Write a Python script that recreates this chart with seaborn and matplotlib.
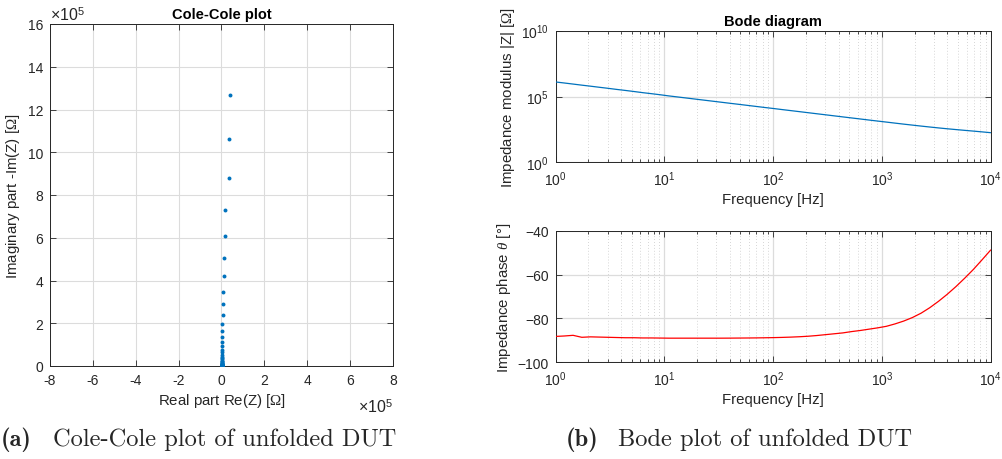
import numpy as np
import pandas as pd
import matplotlib
matplotlib.use("Agg")
import matplotlib.pyplot as plt
from matplotlib.ticker import LogLocator, NullLocator, FixedLocator, NullFormatter
import seaborn as sns

# Measurement frequencies [Hz]
freq_hz = [1.000, 1.202, 1.445, 1.738, 2.089, 2.512, 3.020, 3.631, 4.365, 5.248,
           6.310, 7.586, 9.120, 10.96, 13.18, 15.85, 19.05, 22.91, 27.54, 33.11,
           39.81, 47.86, 57.54, 69.18, 83.18, 100.0, 120.2, 144.5, 173.8, 208.9,
           251.2, 302.0, 363.1, 436.5, 524.8, 631.0, 758.6, 912.0, 1096, 1318,
           1585, 1905, 2291, 2754, 3311, 3981, 4786, 5754, 6918, 8318, 10000]

# Impedance modulus |Z| [Ohm]
modulus = [1.27e6, 1.06e6, 8.80e5, 7.28e5, 6.08e5, 5.04e5, 4.20e5, 3.46e5, 2.89e5, 2.39e5,
           1.96e5, 1.64e5, 1.36e5, 1.11e5, 9.25e4, 7.70e4, 6.40e4, 5.33e4, 4.44e4, 3.69e4,
           3.07e4, 2.56e4, 2.13e4, 1.77e4, 1.47e4, 1.23e4, 1.02e4, 8500, 7080, 5890,
           4900, 4080, 3390, 2820, 2350, 1960, 1630, 1360, 1140, 950,
           795, 670, 565, 480, 410, 353, 307, 268, 235, 205, 178]

# Impedance phase [deg]
phase = [-88.2, -88.0, -87.7, -88.6, -88.4, -88.5, -88.6, -88.7, -88.8, -88.8,
         -88.9, -88.9, -88.95, -89.0, -89.0, -89.0, -89.0, -89.0, -89.0, -89.0,
         -88.98, -88.95, -88.92, -88.88, -88.82, -88.75, -88.65, -88.52, -88.35, -88.12,
         -87.8, -87.4, -87.0, -86.6, -86.0, -85.5, -84.9, -84.3, -83.6, -82.5,
         -81.2, -79.6, -77.6, -75.1, -72.2, -69.0, -65.5, -61.7, -57.7, -53.3, -48.8]

# Real part Re(Z) [Ohm]
real_part = [39900, 37000, 35300, 17800, 17000, 13200, 10300, 7850, 6040, 5000,
             3760, 3150, 2380, 1940, 1620, 1350, 1120, 930, 780, 650,
             540, 450, 370, 310, 260, 280, 250, 223, 210, 196,
             188, 185, 177, 167, 164, 154, 145, 135, 127, 124,
             122, 121, 121, 123, 125, 127, 127, 127, 126, 122, 117]

# Imaginary part -Im(Z) [Ohm]
imag_part = [1.27e6, 1.06e6, 8.80e5, 7.28e5, 6.08e5, 5.04e5, 4.20e5, 3.46e5, 2.89e5, 2.39e5,
             1.96e5, 1.64e5, 1.36e5, 1.11e5, 9.25e4, 7.70e4, 6.40e4, 5.33e4, 4.44e4, 3.69e4,
             3.07e4, 2.56e4, 2.13e4, 1.77e4, 1.47e4, 1.23e4, 1.02e4, 8500, 7080, 5890,
             4900, 4080, 3390, 2820, 2350, 1955, 1623, 1353, 1133, 942,
             785, 659, 552, 464, 390, 330, 279, 236, 199, 165, 134]

bode = pd.DataFrame({"f": freq_hz, "mod": modulus, "phase": phase})
nyq = pd.DataFrame({"re": real_part, "im": imag_part})

sns.set_theme(style="ticks")
plt.rcParams["font.family"] = ["Liberation Sans", "DejaVu Sans"]
plt.rcParams["mathtext.fontset"] = "custom"
plt.rcParams["mathtext.rm"] = "Liberation Sans"
plt.rcParams["mathtext.it"] = "Liberation Serif:italic"
plt.rcParams["mathtext.bf"] = "Liberation Sans:bold"
plt.rcParams["mathtext.sf"] = "Liberation Serif"

AX_COL = "#262626"
GRID_COL = "#dcdcdc"
BLUE = "#0072BD"
TICK_FS = 10
LAB_FS = 10.8
TITLE_FS = 10.5
OHM = r"$\mathsf{\Omega}$"

fig = plt.figure(figsize=(10.03, 4.60), dpi=100)

ax_cc = fig.add_axes([50 / 1003, 1 - 367 / 460, 343 / 1003, 342 / 460])
ax_mod = fig.add_axes([555.7 / 1003, 1 - 163.3 / 460, 435 / 1003, 131.6 / 460])
ax_ph = fig.add_axes([555.7 / 1003, 1 - 363.3 / 460, 435 / 1003, 131.6 / 460])


def style_axes(ax):
    for sp in ax.spines.values():
        sp.set_visible(True)
        sp.set_color(AX_COL)
        sp.set_linewidth(0.7)
    ax.tick_params(which="both", direction="in", top=True, right=True,
                   colors=AX_COL, labelsize=TICK_FS, width=0.6)
    ax.tick_params(which="major", length=4, pad=5)
    ax.tick_params(which="minor", length=2.5)
    ax.set_axisbelow(True)


# Cole-Cole plot
sns.scatterplot(data=nyq, x="re", y="im", ax=ax_cc, color=BLUE, s=8,
                linewidth=0, marker="o", zorder=3)
ax_cc.set_xlim(-8e5, 8e5)
ax_cc.set_ylim(0, 16e5)
ax_cc.set_xticks(np.arange(-8, 9, 2) * 1e5)
ax_cc.set_xticklabels([str(v) for v in range(-8, 9, 2)])
ax_cc.set_yticks(np.arange(0, 17, 2) * 1e5)
ax_cc.set_yticklabels([str(v) for v in range(0, 17, 2)])
ax_cc.grid(True, color=GRID_COL, lw=0.8)
style_axes(ax_cc)
ax_cc.set_title("Cole-Cole plot", fontsize=TITLE_FS, fontweight="bold", pad=4, color="black")
ax_cc.set_xlabel("Real part Re(Z) [" + OHM + "]", fontsize=LAB_FS, color=AX_COL, labelpad=3)
ax_cc.set_ylabel("Imaginary part -Im(Z) [" + OHM + "]", fontsize=LAB_FS, color=AX_COL,
                 labelpad=4)
ax_cc.text(0.0, 1.002, r"$\times10^5$", transform=ax_cc.transAxes, fontsize=11.5,
           color=AX_COL, ha="left", va="bottom")
ax_cc.text(1.0, -0.09, r"$\times10^5$", transform=ax_cc.transAxes, fontsize=11.5,
           color=AX_COL, ha="right", va="top")

# Bode modulus
ax_mod.set_xscale("log")
ax_mod.set_yscale("log")
sns.lineplot(data=bode, x="f", y="mod", ax=ax_mod, color=BLUE, lw=0.9, zorder=3)
ax_mod.set_xlim(1, 1e4)
ax_mod.set_ylim(1, 1e10)
ax_mod.yaxis.set_major_locator(FixedLocator([1, 1e5, 1e10]))
ax_mod.yaxis.set_minor_locator(NullLocator())

# Bode phase
ax_ph.set_xscale("log")
sns.lineplot(data=bode, x="f", y="phase", ax=ax_ph, color="#FF0000", lw=0.9, zorder=3)
ax_ph.set_xlim(1, 1e4)
ax_ph.set_ylim(-100, -40)
ax_ph.set_yticks([-100, -80, -60, -40])

for ax in (ax_mod, ax_ph):
    ax.xaxis.set_major_locator(LogLocator(base=10, numticks=10))
    ax.xaxis.set_minor_locator(LogLocator(base=10, subs=np.arange(2, 10), numticks=20))
    ax.xaxis.set_minor_formatter(NullFormatter())
    ax.grid(True, which="major", color=GRID_COL, lw=0.9)
    ax.grid(True, which="minor", axis="x", color="#c8c8c8", lw=0.6, ls=(0, (1, 2.5)))
    style_axes(ax)
    ax.set_xlabel("Frequency [Hz]", fontsize=LAB_FS, color=AX_COL, labelpad=3)

ax_mod.set_title("Bode diagram", fontsize=TITLE_FS, fontweight="bold", pad=4, color="black")
ax_mod.set_ylabel("Impedance modulus |Z| [" + OHM + "]", fontsize=LAB_FS, color=AX_COL,
                  labelpad=3)
ax_ph.set_ylabel(r"Impedance phase $\theta$ [°]", fontsize=LAB_FS, color=AX_COL, labelpad=3)

# Sub-figure captions
cap_y = 1 - 440 / 460
CAP_FS = 17.6
fig.text(1 / 1003, cap_y, "(a)", fontsize=CAP_FS, family="cmb10", ha="left", va="center")
fig.text(53 / 1003, cap_y, "Cole-Cole plot of unfolded DUT", fontsize=CAP_FS, family="cmr10",
         ha="left", va="center")
fig.text(566 / 1003, cap_y, "(b)", fontsize=CAP_FS, family="cmb10", ha="left", va="center")
fig.text(618 / 1003, cap_y, "Bode plot of unfolded DUT", fontsize=CAP_FS, family="cmr10",
         ha="left", va="center")

fig.savefig("out.png", dpi=100, facecolor="white")
